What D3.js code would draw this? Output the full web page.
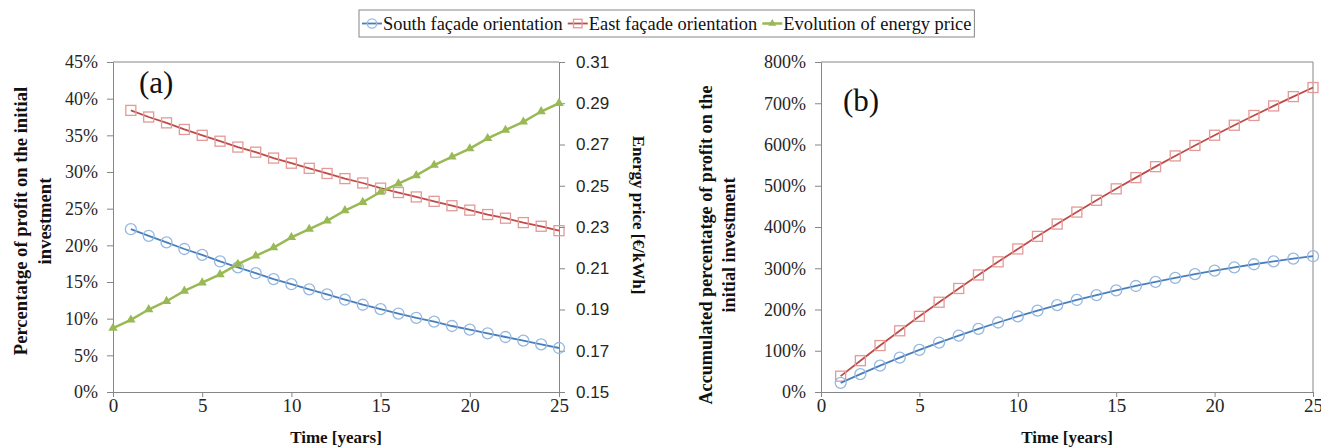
<!DOCTYPE html>
<html>
<head>
<meta charset="utf-8">
<script src="https://cdn.jsdelivr.net/npm/d3@7"></script>
<style>
  body { margin: 0; background: #fff; }
  svg { display: block; }
  .serif { font-family: "Liberation Serif", "Times New Roman", serif; }
</style>
</head>
<body>
<svg width="1321" height="448"></svg>
<script>
// years
const yearsA = d3.range(1, 26);
const yearsPrice = d3.range(0, 26);

// yearly profit in % of the initial investment (panel a)
const southYearly = [22.2, 21.3, 20.4, 19.5, 18.7, 17.8, 17.0, 16.2, 15.4, 14.7, 14.0, 13.3, 12.6,
  11.9, 11.3, 10.7, 10.1, 9.6, 9.0, 8.5, 8.0, 7.5, 7.0, 6.5, 6.0];
const eastYearly = [38.4, 37.5, 36.7, 35.8, 35.0, 34.2, 33.4, 32.7, 31.9, 31.2, 30.5, 29.8, 29.1,
  28.5, 27.8, 27.2, 26.6, 26.0, 25.4, 24.8, 24.2, 23.7, 23.1, 22.6, 22.0];
// energy price in €/kWh, years 0..25
const energyPrice = [0.181, 0.185, 0.190, 0.194, 0.199, 0.203, 0.207, 0.212, 0.216, 0.220, 0.225,
  0.229, 0.233, 0.238, 0.242, 0.247, 0.251, 0.255, 0.260, 0.264, 0.268, 0.273, 0.277, 0.281, 0.286, 0.290];

// accumulated profit in % (panel b)
const southAccum = [22.2, 43.5, 63.9, 83.4, 102.1, 119.9, 136.9, 153.1, 168.5, 183.2, 197.2, 210.5,
  223.1, 235.0, 246.3, 257.0, 267.1, 276.7, 285.7, 294.2, 302.2, 309.7, 316.7, 323.2, 329.2];
const eastAccum = [38.4, 75.9, 112.6, 148.4, 183.4, 217.6, 251.0, 283.7, 315.6, 346.8, 377.3, 407.1,
  436.2, 464.7, 492.5, 519.7, 546.3, 572.3, 597.7, 622.5, 646.7, 670.4, 693.5, 716.1, 738.1];

// tick labels
const yearTicks = [0, 5, 10, 15, 20, 25];
const pctTicksA = [0, 5, 10, 15, 20, 25, 30, 35, 40, 45];
const priceTicks = [0.15, 0.17, 0.19, 0.21, 0.23, 0.25, 0.27, 0.29, 0.31];
const pctTicksB = [0, 100, 200, 300, 400, 500, 600, 700, 800];

const legendNames = ["South façade orientation", "East façade orientation", "Evolution of energy price"];

const col = {
  south: "#4A7EBB", southMk: "#95B8E0",
  east: "#BE4B48", eastMk: "#E39A98",
  green: "#98B954",
  axis: "#868686"
};

const serif = "Liberation Serif, Times New Roman, serif";
const sans = "Liberation Sans, Arial, sans-serif";

const svg = d3.select("svg");

const xA = d3.scaleLinear().domain([0, 25]).range([113, 559]);
const yA = d3.scaleLinear().domain([0, 45]).range([392, 62]);
const yP = d3.scaleLinear().domain([0.15, 0.31]).range([392, 62]);
const xB = d3.scaleLinear().domain([0, 25]).range([821, 1313]);
const yB = d3.scaleLinear().domain([0, 800]).range([392, 62]);

function styleAxis(g, font, size) {
  g.attr("font-family", font).attr("font-size", size);
  g.select(".domain").attr("stroke", col.axis);
  g.selectAll(".tick line").attr("stroke", col.axis);
  g.selectAll(".tick text").attr("fill", "#262626")
    .attr("font-family", font).attr("font-size", size);
}

// ---------- panel (a)
svg.append("line").attr("x1", xA(0)).attr("x2", xA(25)).attr("y1", yA(45)).attr("y2", yA(45))
  .attr("stroke", col.axis);

svg.append("g").attr("transform", `translate(0,${yA(0)})`)
  .call(d3.axisBottom(xA).tickValues(yearTicks).tickSize(5).tickSizeOuter(0).tickPadding(2))
  .call(g => styleAxis(g, serif, 19));
svg.append("g").attr("transform", `translate(${xA(0)},0)`)
  .call(d3.axisLeft(yA).tickValues(pctTicksA).tickFormat(d => d + "%").tickSize(6).tickSizeOuter(0).tickPadding(9))
  .call(g => styleAxis(g, serif, 18));
svg.append("g").attr("transform", `translate(${xA(25)},0)`)
  .call(d3.axisRight(yP).tickValues(priceTicks).tickFormat(d3.format(".2f")).tickSize(6).tickSizeOuter(0).tickPadding(11))
  .call(g => styleAxis(g, sans, 17));

function drawSeries(xs, ys, xScale, yScale, kind) {
  const pts = xs.map((x, i) => [xScale(x), yScale(ys[i])]);
  const lineCol = kind === "south" ? col.south : kind === "east" ? col.east : col.green;
  svg.append("path").attr("d", d3.line()(pts)).attr("fill", "none")
    .attr("stroke", lineCol).attr("stroke-width", kind === "green" ? 2.5 : 1.8);
  drawMarkers(svg.append("g"), pts, kind, 1);
}
function drawMarkers(g, pts, kind, s) {
  if (kind === "south") {
    g.selectAll("circle").data(pts).join("circle")
      .attr("cx", d => d[0]).attr("cy", d => d[1]).attr("r", 5.5 * s)
      .attr("fill", "none").attr("stroke", col.southMk).attr("stroke-width", 1.3);
  } else if (kind === "east") {
    g.selectAll("rect").data(pts).join("rect")
      .attr("x", d => d[0] - 5 * s).attr("y", d => d[1] - 5 * s).attr("width", 10 * s).attr("height", 10 * s)
      .attr("fill", "none").attr("stroke", col.eastMk).attr("stroke-width", 1.3);
  } else {
    g.selectAll("path").data(pts).join("path")
      .attr("d", d3.symbol(d3.symbolTriangle, 38 * s * s))
      .attr("transform", d => `translate(${d[0]},${d[1]})`)
      .attr("fill", col.green);
  }
}

drawSeries(yearsA, eastYearly, xA, yA, "east");
drawSeries(yearsA, southYearly, xA, yA, "south");
drawSeries(yearsPrice, energyPrice, xA, yP, "green");

svg.append("text").attr("class", "serif").attr("x", 139).attr("y", 93)
  .style("font-size", "31px").attr("fill", "#111").text("(a)");

function title(x, y, rot, txt, size) {
  return svg.append("text").attr("class", "serif")
    .attr("transform", `translate(${x},${y}) rotate(${rot})`).attr("text-anchor", "middle")
    .style("font-size", size + "px").style("font-weight", "bold").attr("fill", "#111")
    .text(txt);
}

// axis titles (a)
title(27, 221, -90, "Percentatge of profit on the initial", 18.6);
title(51, 221, -90, "investment", 18.6);
title(633, 215, 90, "Energy price [€/kWh]", 17);
title((xA(0) + xA(25)) / 2, 443, 0, "Time [years]", 17);

// ---------- panel (b)
svg.append("path")
  .attr("d", `M${xB(0)},${yB(800)}H${xB(25)}V${yB(0)}`)
  .attr("fill", "none").attr("stroke", col.axis);
svg.append("g").attr("transform", `translate(0,${yB(0)})`)
  .call(d3.axisBottom(xB).tickValues(yearTicks).tickSize(5).tickSizeOuter(0).tickPadding(2))
  .call(g => styleAxis(g, serif, 19));
svg.append("g").attr("transform", `translate(${xB(0)},0)`)
  .call(d3.axisLeft(yB).tickValues(pctTicksB).tickFormat(d => d + "%").tickSize(6).tickSizeOuter(0).tickPadding(9))
  .call(g => styleAxis(g, serif, 18));

drawSeries(yearsA, eastAccum, xB, yB, "east");
drawSeries(yearsA, southAccum, xB, yB, "south");

svg.append("text").attr("class", "serif").attr("x", 843).attr("y", 111)
  .style("font-size", "31px").attr("fill", "#111").text("(b)");

title(712, 245, -90, "Accumulated percentatge of profit on the", 18.2);
title(735, 245, -90, "initial investment", 18.2);
title((xB(0) + xB(25)) / 2, 443, 0, "Time [years]", 17);

// ---------- legend
const legend = svg.append("g");
const box = legend.append("rect").attr("x", 359).attr("y", 10).attr("height", 27)
  .attr("fill", "#fff").attr("stroke", col.axis);
let lx = 362;
const kinds = ["south", "east", "green"];
legendNames.forEach((name, i) => {
  const k = kinds[i];
  const lc = k === "south" ? col.south : k === "east" ? col.east : col.green;
  legend.append("line").attr("x1", lx).attr("x2", lx + 20).attr("y1", 23.5).attr("y2", 23.5)
    .attr("stroke", lc).attr("stroke-width", k === "green" ? 2.5 : 1.8);
  drawMarkers(legend.append("g"), [[lx + 10, 23.5]], k, 0.85);
  const t = legend.append("text").attr("class", "serif").attr("x", lx + 21).attr("y", 29.5)
    .style("font-size", "18.4px").attr("fill", "#111").text(name);
  lx += 21 + t.node().getComputedTextLength() + 5;
});
box.attr("width", lx - 359 - 2);
</script>
</body>
</html>
